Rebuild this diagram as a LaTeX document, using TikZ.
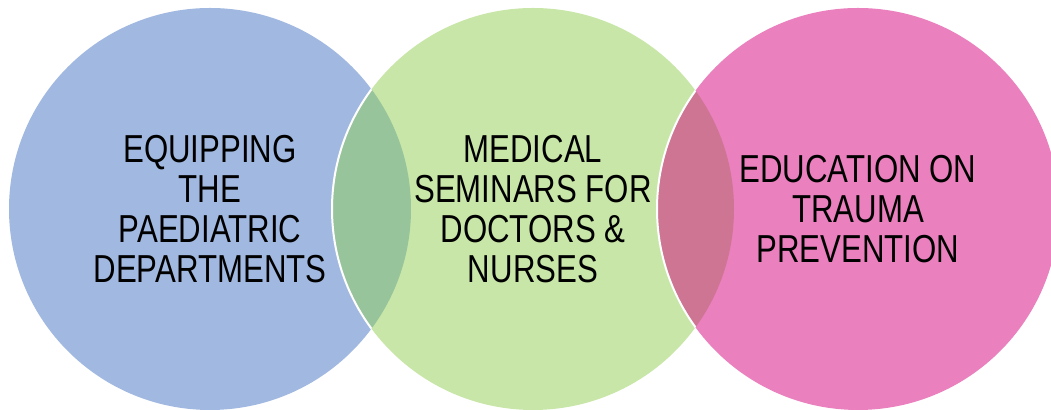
\documentclass[tikz,border=0pt]{standalone}
\usepackage{fontspec}
\setmainfont{Liberation Sans}[FakeStretch=0.8]
\usepackage{xcolor}
\definecolor{blueC}{HTML}{A1B9E1}
\definecolor{greenC}{HTML}{C8E6A7}
\definecolor{pinkC}{HTML}{EA80BE}
\definecolor{blueGreen}{HTML}{98C49B}
\definecolor{greenPink}{HTML}{CE7593}

\begin{document}
\begin{tikzpicture}[rad/.style={radius=100.5pt},
    txt/.style={align=center, font=\fontsize{19.5pt}{20pt}\selectfont}]
  \useasboundingbox (0,0) rectangle (525.5pt,205pt);
  \coordinate (A) at (105pt,100.5pt);
  \coordinate (B) at (266.5pt,100.5pt);
  \coordinate (C) at (429pt,100.5pt);

  \fill[blueC]  (A) circle[rad];
  \fill[greenC] (B) circle[rad];
  \fill[pinkC]  (C) circle[rad];

  % overlaps
  \begin{scope}
    \clip (A) circle[rad];
    \fill[blueGreen] (B) circle[rad];
    \draw[white, line width=1pt] (B) circle[rad];
  \end{scope}
  \begin{scope}
    \clip (B) circle[rad];
    \fill[greenPink] (C) circle[rad];
    \draw[white, line width=1pt] (C) circle[rad];
  \end{scope}

  \node[txt] (equip)  at (A) {EQUIPPING\\THE\\PAEDIATRIC\\DEPARTMENTS};
  \node[txt] (semin)  at (B) {MEDICAL\\SEMINARS FOR\\DOCTORS \&\\NURSES};
  \node[txt] (trauma) at (C) {EDUCATION ON\\TRAUMA\\PREVENTION};
\end{tikzpicture}
\end{document}
